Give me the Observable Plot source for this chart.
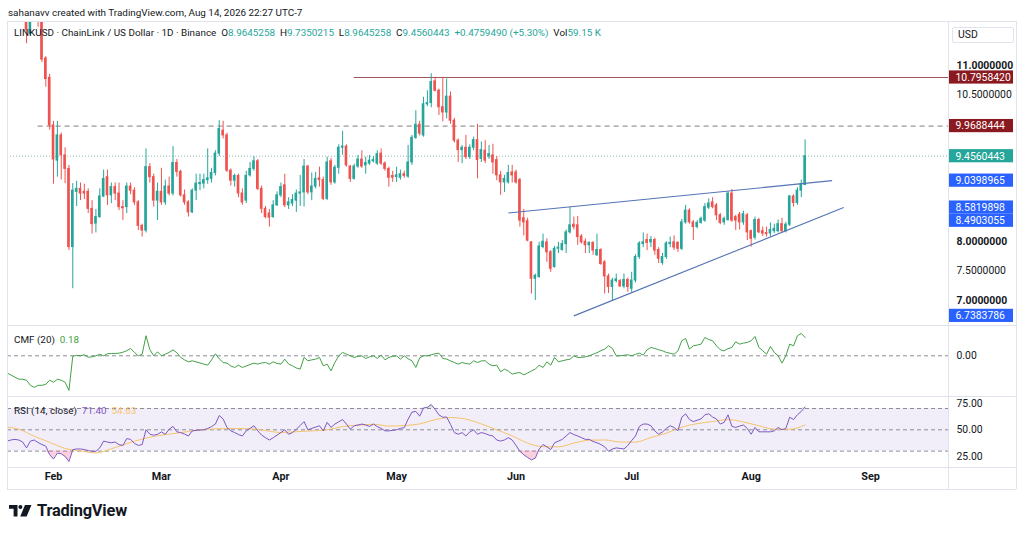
<!DOCTYPE html>
<html><head><meta charset="utf-8">
<script src="https://cdn.jsdelivr.net/npm/d3@7"></script>
<script src="https://cdn.jsdelivr.net/npm/@observablehq/plot@0.6"></script>
<style>
html,body{margin:0;padding:0;background:#fff;}
#root{position:relative;width:1024px;height:534px;overflow:hidden;font-family:Roboto,"Liberation Sans",sans-serif;color:#131722;}
.abs{position:absolute;white-space:nowrap;}
.ln{position:absolute;background:#e0e3eb;}
.up{color:#26a69a}
</style></head><body><div id="root"></div>
<script>
// ---------------- DATA ----------------
const headerText = "sahanavv created with TradingView.com, Aug 14, 2026 22:27 UTC-7";
const symbolText = "LINKUSD · ChainLink / US Dollar · 1D · Binance";
const volumeText = "59.15 K";
const candleStart = "2026-01-25"; // first daily candle, one per day
const opens = [
 11.9,11.54,11.9,11.85,11.8,11.12,10.79,9.98,9.38,9.81,
 9.47,9.24,7.91,8.85,8.9,8.85,8.85,8.56,8.31,8.42,
 8.77,9.1,8.79,8.93,8.82,8.59,8.59,8.94,8.87,8.67,
 8.27,8.19,9.27,9.1,8.7,8.85,8.67,8.94,8.82,9.34,
 9.19,8.79,8.67,8.5,8.87,8.98,8.99,9.05,9.07,9.17,
 9.5,9.89,9.81,9.21,9.04,9.12,8.82,8.7,9.13,9.24,
 9.37,8.9,8.56,8.48,8.42,8.62,8.79,8.96,8.62,8.65,
 8.7,8.82,8.84,9.28,8.84,8.94,9.08,9.05,8.73,9.37,
 9.01,9.26,9.6,9.62,9.28,9.07,9.28,9.4,9.3,9.33,
 9.37,9.33,9.5,9.33,9.24,9.12,9.1,9.09,9.15,9.11,
 9.35,9.77,9.99,9.81,10.34,10.36,10.73,10.57,10.29,10.2,
 10.47,10.06,9.72,9.56,9.6,9.44,9.6,9.73,9.41,9.55,
 9.45,9.47,9.39,9.13,9.01,9.01,9.18,9.18,9.05,8.4,
 8.35,7.99,7.37,7.4,7.91,7.99,7.82,7.57,7.88,7.86,
 7.96,8.16,8.29,8.28,8.09,8.0,7.94,7.98,7.77,7.86,
 7.65,7.41,7.23,7.33,7.33,7.24,7.35,7.2,7.34,7.74,
 7.96,8.03,7.99,8.03,7.86,7.64,7.74,7.96,7.99,7.98,
 7.88,8.33,8.53,8.33,8.25,8.32,8.36,8.58,8.67,8.62,
 8.45,8.33,8.37,8.82,8.42,8.46,8.33,8.45,8.18,8.07,
 8.37,8.18,8.15,8.14,8.18,8.18,8.3,8.18,8.29,8.77,
 8.66,8.87,8.9645258];
const highs = [
 12.0,12.0,12.1,12.0,11.85,11.15,10.85,10.05,10.05,9.85,
 9.6,9.3,8.99,9.03,9.0,8.98,8.9,8.7,8.55,8.9,
 9.22,9.22,9.0,9.0,9.0,8.7,9.0,9.0,8.92,8.7,
 8.3,9.58,9.33,9.15,9.0,9.25,9.05,9.1,9.62,9.4,
 9.22,8.88,8.7,8.9,9.15,9.15,9.15,9.58,9.25,9.55,
 10.06,10.05,9.85,9.24,9.15,9.15,8.9,9.2,9.35,9.45,
 9.4,8.95,8.6,8.55,8.7,8.85,9.0,9.15,8.75,8.8,
 8.88,9.13,9.4,9.3,9.17,9.18,9.27,9.1,9.44,9.42,
 9.3,9.65,9.88,9.65,9.3,9.32,9.47,9.55,9.44,9.47,
 9.45,9.55,9.58,9.36,9.27,9.2,9.27,9.22,9.2,9.64,
 9.81,10.23,10.05,10.46,10.57,10.86,10.8,10.6,10.8,10.77,
 10.55,10.1,9.75,9.64,9.81,9.65,9.78,10.0,9.7,9.72,
 9.64,9.66,9.45,9.2,9.13,9.3,9.3,9.22,9.08,8.55,
 8.4,8.0,7.45,7.99,8.13,8.05,7.85,7.92,7.99,8.02,
 8.2,8.59,8.42,8.43,8.12,8.05,8.0,8.0,8.13,7.88,
 7.68,7.45,7.38,7.45,7.36,7.45,7.38,7.48,7.78,8.0,
 8.15,8.13,8.09,8.06,7.9,7.8,8.0,8.08,8.1,8.0,
 8.38,8.62,8.56,8.36,8.36,8.42,8.65,8.73,8.75,8.65,
 8.48,8.42,8.85,8.89,8.45,8.5,8.52,8.48,8.2,8.42,
 8.4,8.25,8.25,8.32,8.3,8.37,8.4,8.33,8.79,8.8,
 8.92,9.05,9.7350215];
const lows = [
 11.37,11.5,11.75,11.65,11.05,10.63,9.9,8.98,9.1,9.05,
 8.99,7.85,7.2,8.6,8.7,8.72,8.48,8.13,8.15,8.4,
 8.75,8.62,8.65,8.7,8.53,8.36,8.48,8.8,8.62,8.19,
 8.08,8.15,9.0,8.59,8.36,8.62,8.62,8.78,8.78,9.1,
 8.76,8.62,8.42,8.48,8.7,8.87,8.9,8.98,9.0,9.12,
 9.45,9.75,9.18,8.95,8.93,8.75,8.62,8.65,9.1,9.2,
 8.87,8.48,8.39,8.25,8.4,8.6,8.75,8.58,8.55,8.6,
 8.5,8.6,8.59,8.8,8.7,8.9,8.93,8.7,8.7,8.96,
 8.98,9.15,9.47,9.27,9.01,9.05,9.25,9.25,9.15,9.3,
 9.34,9.3,9.3,9.2,8.93,9.01,9.01,9.05,9.08,9.08,
 9.3,9.74,9.8,9.78,10.3,10.28,10.55,10.15,10.04,10.09,
 10.0,9.68,9.35,9.33,9.4,9.4,9.55,9.07,9.35,9.33,
 9.4,9.15,9.04,8.79,8.84,8.98,9.0,8.98,8.25,8.1,
 8.0,7.11,7.0,7.38,7.88,7.65,7.48,7.55,7.8,7.84,
 7.8,8.13,8.2,7.94,7.96,7.8,7.8,7.77,7.75,7.6,
 7.11,7.12,7.0,7.3,7.22,7.2,7.14,7.14,7.3,7.7,
 7.9,7.85,7.9,7.77,7.63,7.6,7.7,7.9,7.85,7.82,
 7.85,8.3,8.3,8.02,8.22,8.3,8.33,8.55,8.56,8.36,
 8.29,8.28,8.35,8.33,8.19,8.2,8.28,8.02,7.91,8.03,
 8.14,8.09,8.08,8.08,8.14,8.15,8.15,8.15,8.26,8.59,
 8.62,8.75,8.9645258];
const closes = [
 11.6,11.9,11.85,11.75,11.1,10.77,9.98,9.4,9.81,9.47,
 9.24,7.91,8.87,8.9,8.82,8.82,8.56,8.3,8.42,8.77,
 9.07,8.79,8.93,8.82,8.59,8.57,8.94,8.87,8.67,8.27,
 8.19,9.27,9.1,8.7,8.85,8.67,8.94,8.82,9.34,9.19,
 8.79,8.67,8.5,8.87,8.99,9.0,9.05,9.08,9.17,9.5,
 9.92,9.81,9.21,9.04,9.12,8.82,8.67,9.12,9.24,9.37,
 8.9,8.56,8.42,8.41,8.62,8.79,8.93,8.62,8.67,8.71,
 8.82,8.84,9.28,8.84,8.94,9.07,9.05,8.73,9.35,9.01,
 9.26,9.6,9.62,9.3,9.07,9.28,9.4,9.28,9.34,9.38,
 9.39,9.49,9.33,9.24,9.09,9.09,9.13,9.15,9.12,9.35,
 9.77,9.99,9.84,10.34,10.36,10.72,10.57,10.29,10.2,10.47,
 10.06,9.72,9.56,9.6,9.44,9.6,9.73,9.39,9.56,9.38,
 9.49,9.35,9.13,9.01,9.07,9.17,9.13,9.01,8.36,8.33,
 8.02,7.37,7.42,7.92,8.0,7.82,7.54,7.88,7.9,7.96,
 8.16,8.28,8.25,8.08,7.99,7.94,7.98,7.85,7.86,7.62,
 7.41,7.23,7.34,7.36,7.24,7.35,7.23,7.34,7.74,7.97,
 7.99,7.98,8.03,7.85,7.71,7.74,7.97,7.98,7.9,7.88,
 8.33,8.53,8.33,8.25,8.32,8.39,8.59,8.65,8.59,8.45,
 8.32,8.39,8.82,8.36,8.36,8.33,8.47,8.16,8.05,8.37,
 8.16,8.14,8.13,8.2,8.22,8.3,8.18,8.29,8.77,8.66,
 8.87,8.9800953,9.4560443];

const indicatorStart = "2026-01-20"; // CMF and RSI, one value per day
const cmf = [
 -0.17,-0.19,-0.21,-0.23,-0.23,-0.24,-0.29,-0.31,-0.29,-0.29,
 -0.28,-0.24,-0.26,-0.23,-0.24,-0.26,-0.34,-0.005,0.005,0.0,
 0.01,-0.015,-0.01,0.0,0.015,0.0,0.02,0.023,0.023,0.026,
 0.035,0.05,0.072,0.033,0.0,0.016,0.197,0.06,0.0,0.039,
 0.0,0.016,0.033,0.059,0.03,-0.016,-0.04,-0.059,-0.049,-0.06,
 -0.07,-0.082,-0.092,-0.04,0.02,-0.03,-0.066,-0.072,-0.1,-0.115,
 -0.092,-0.115,-0.1,-0.085,-0.072,-0.082,-0.07,-0.066,-0.082,-0.059,
 -0.075,-0.082,-0.033,-0.082,-0.098,-0.12,-0.131,-0.016,-0.049,-0.04,
 -0.033,-0.016,-0.098,-0.082,-0.148,-0.066,0.0,0.033,0.016,0.0,
 -0.016,-0.005,0.0,-0.026,-0.01,0.0,-0.026,0.007,-0.039,-0.016,
 -0.005,0.0,-0.033,0.0,-0.03,-0.05,-0.115,-0.02,0.0,0.0,
 0.01,0.02,0.026,-0.026,-0.033,-0.05,-0.066,-0.082,-0.066,-0.075,
 -0.082,-0.049,-0.066,-0.05,-0.049,-0.082,-0.098,-0.092,-0.157,-0.131,
 -0.15,-0.18,-0.17,-0.164,-0.187,-0.17,-0.148,-0.131,-0.092,-0.115,
 -0.059,-0.092,-0.016,-0.059,-0.049,-0.04,-0.033,0.0,-0.016,-0.016,
 -0.01,0.0,0.016,0.03,0.05,0.066,0.098,0.072,0.0,0.0,
 0.005,0.01,0.0,0.015,0.026,0.007,0.059,0.082,0.072,0.06,
 0.049,0.033,0.025,0.016,0.049,0.148,0.17,0.066,0.098,0.105,
 0.115,0.18,0.16,0.148,0.098,0.059,0.049,0.07,0.082,0.138,
 0.115,0.125,0.131,0.148,0.19,0.082,0.05,0.016,0.092,0.033,
 0.0,-0.072,0.0,0.115,0.098,0.197,0.22,0.18];
const rsi = [
 39.4,40.5,41,40.4,38.5,33,39.4,40.4,38,36.2,
 34.6,26.6,22.5,28.2,27.5,25,20.2,31.4,32,32,
 31.4,30.5,29.8,29.8,33,39.4,38.5,37.8,38.5,36,
 35.3,41.7,41,37.2,35.3,36.2,50,45.8,44.9,45.8,
 48,45.8,50.6,53.2,48.1,47.4,46,44.2,49,49.5,
 49.8,50,51.3,53,55.4,63.4,60.2,52.2,49,47.4,
 45.5,44.2,49,51.3,53.8,49,45,42.6,40.4,42.6,
 45,47.4,50,45.8,47.4,50.6,54,57.7,50,51.3,
 52.5,53.8,49,57,52.2,55.4,57.5,59.6,55.4,50.6,
 53.8,54.5,55.4,54.5,53.2,55.4,53,51.3,49,49,
 49.5,50,51.3,52,60,66.6,67.3,62.8,70.5,71,
 73.7,69.2,64,61.8,62,55,47.4,45.8,47.4,44.2,
 48,50,45.8,47.4,46.5,45,44.2,40.4,39.4,40.5,
 42.6,40.4,35.3,29.8,26.6,24,21.8,23.4,32,36.2,
 34,31.4,37.8,39.4,41,44.2,47.4,45.5,44.2,42.6,
 41,41,39,37.8,36.2,34,29.8,32,33,32.5,
 32,35.3,40,44.2,53.2,55.4,55.4,53.8,49,45.8,
 48,51.3,53.8,52.2,49,61.8,65,59.6,57.7,59,
 60.2,64.1,65,62,60.2,55.4,57,64.1,53.2,52.2,
 53.5,54.5,51.3,45.8,52.2,48.1,48.1,48.1,48.1,49,
 52.2,50,51.3,61.8,59.6,64.1,67.3,71.4];
const rsiMaStart = "2026-01-19"; // RSI moving average read every 4 days
const rsiMaStepDays = 4;
const rsiMa = [
 53,50.5,44,38.2,32.5,30.2,28.3,32.2,37,41.3,
 44.4,46.4,48.4,50.2,51,51.3,51,49.3,47.5,48.2,
 49,50,53,54.3,55.2,53.5,54,55.5,59.5,61.5,
 60,55.5,50,44.3,37.5,34.1,34,37.5,40.2,40.5,
 38.5,38.5,42.8,46.8,52.5,55.8,57.8,59.6,57.3,53.8,
 50.6,50.5,54.63];

// horizontal levels drawn on the price pane
const resistanceLevel = 10.795842, resistanceFrom = "2026-04-20";
const supportLevel = 9.9688444, supportFrom = "2026-01-28";
// trend lines (wedge)
const trendStartDates = ["2026-05-30","2026-06-16"];
const trendEndDates = ["2026-08-22","2026-08-25"];
const trendStartValues = [8.4903055, 6.7383786];
const trendEndValues = [9.0398965, 8.5819898];

const priceTicksMajor = [7, 8, 9, 10, 11];
const priceTicksMinor = [7.5, 8.5, 9.5, 10.5];
const monthTicks = ["2026-02-01","2026-03-01","2026-04-01","2026-05-01","2026-06-01","2026-07-01","2026-08-01","2026-09-01"];
const monthLabels = ["Feb","Mar","Apr","May","Jun","Jul","Aug","Sep"];
const rsiLevels = [70, 50, 30];
const rsiAxisTicks = [75, 50, 25];

// ---------------- SETUP ----------------
const FONT = 'Roboto, "Liberation Sans", sans-serif';
const UP = "#26a69a", DOWN = "#ef5350", BLUE = "#2962ff", DARKRED = "#8a1a20";
const DAY = 864e5;
const t = s => new Date(s + "T00:00:00Z");
const feb1 = +t("2026-02-01");
const xDomain = [new Date(feb1 - 11.94 * DAY), new Date(feb1 + 232.2 * DAY)];
const W = 1024, ML = 7, MR = 76;
const FRAME_W = W - ML - MR;

const candles = opens.map((o, i) => ({
  date: new Date(+t(candleStart) + i * DAY), o, h: highs[i], l: lows[i], c: closes[i]
}));
const cmfData = cmf.map((v, i) => ({date: new Date(+t(indicatorStart) + i * DAY), v}));
const rsiData = rsi.map((v, i) => ({date: new Date(+t(indicatorStart) + i * DAY), v}));
const maData = rsiMa.map((v, i) => ({date: new Date(+t(rsiMaStart) + i * rsiMaStepDays * DAY), v}));
const last = candles[candles.length - 1], prev = candles[candles.length - 2];
const change = last.c - prev.c, changePct = change / prev.c * 100;

const trends = trendStartDates.map((d, i) => ({
  x1: t(d), x2: t(trendEndDates[i]), y1: trendStartValues[i], y2: trendEndValues[i]
}));

// price labels on the right axis (stacked so they do not overlap)
const MAIN_H = 304;
const yMainDomain = [6.5745, 11.749];
const yMain = d3.scaleLinear().domain(yMainDomain).range([MAIN_H, 0]);
const BOX_H = 13.2;
let priceLabels = [
  {v: resistanceLevel, fill: DARKRED},
  {v: supportLevel, fill: DARKRED},
  {v: last.c, fill: UP},
  ...trends.flatMap(d => [{v: d.y2, fill: BLUE}, {v: d.y1, fill: BLUE}])
].sort((a, b) => b.v - a.v);
let prevPx = -Infinity;
priceLabels = priceLabels.map(d => {
  const px = Math.max(yMain(d.v), prevPx + BOX_H);
  prevPx = px;
  return {...d, pos: yMain.invert(px), text: d.v.toFixed(7)};
});
// axis ticks hidden behind a price label are not drawn
const visibleTick = v => priceLabels.every(d => Math.abs(yMain(d.pos) - yMain(v)) > BOX_H / 2 + 4);

const common = {
  width: W, marginLeft: ML, marginRight: MR,
  x: {type: "utc", domain: xDomain, axis: null},
  style: {fontFamily: FONT, fontSize: "10.4px", overflow: "visible", background: "transparent", color: "#131722"}
};
const colorOf = d => d.c >= d.o ? UP : DOWN;

const mainPlot = Plot.plot({
  ...common, height: MAIN_H, marginTop: 0, marginBottom: 0,
  y: {domain: yMainDomain, axis: null},
  marks: [
    Plot.text(priceTicksMajor.filter(visibleTick), {y: d => d, text: d => d.toFixed(7), frameAnchor: "right", dx: 8, textAnchor: "start", fill: "#131722", fontWeight: "bold"}),
    Plot.text(priceTicksMinor.filter(visibleTick), {y: d => d, text: d => d.toFixed(7), frameAnchor: "right", dx: 8, textAnchor: "start", fill: "#131722"}),
    Plot.ruleY([last.c], {x1: xDomain[0], x2: xDomain[1], stroke: "#8fbab5", strokeDasharray: "1 2", strokeWidth: 1}),
    Plot.ruleY([supportLevel], {x1: t(supportFrom), x2: xDomain[1], stroke: "#85797e", strokeDasharray: "5 4", strokeWidth: 1}),
    Plot.ruleY([resistanceLevel], {x1: t(resistanceFrom), x2: xDomain[1], stroke: "#a0545c", strokeWidth: 1.2}),
    Plot.ruleX(candles, {x: "date", y1: "l", y2: "h", stroke: colorOf, strokeWidth: 1, clip: true}),
    Plot.rect(candles, {
      x1: d => new Date(+d.date - 0.34 * DAY), x2: d => new Date(+d.date + 0.34 * DAY),
      y1: "o", y2: "c", fill: colorOf, insetTop: -0.5, insetBottom: -0.5, clip: true
    }),
    Plot.link(trends, {x1: "x1", y1: "y1", x2: "x2", y2: "y2", stroke: "#5474b4", strokeWidth: 1.1}),
    Plot.rect(priceLabels, {y1: "pos", y2: "pos", fill: "fill", insetLeft: FRAME_W + 1, insetRight: -65, insetTop: -BOX_H / 2, insetBottom: -BOX_H / 2}),
    Plot.text(priceLabels, {y: "pos", text: "text", frameAnchor: "right", dx: 7, textAnchor: "start", fill: "white"})
  ]
});

const cmfPlot = Plot.plot({
  ...common, height: 70, marginTop: 0, marginBottom: 0,
  y: {domain: [-0.400, 0.288], axis: null},
  marks: [
    Plot.ruleY([0], {stroke: "#8a8d96", strokeDasharray: "4 3"}),
    Plot.lineY(cmfData, {x: "date", y: "v", stroke: "#43a047", strokeWidth: 1, clip: true}),
    Plot.text([0], {y: d => d, text: d => d.toFixed(2), frameAnchor: "right", dx: 8, textAnchor: "start", fill: "#131722"})
  ]
});

const rsiPlot = Plot.plot({
  ...common, height: 92, marginTop: 0, marginBottom: 22,
  y: {domain: [14.6, 80.33], axis: null},
  marks: [
    Plot.rect([rsiLevels], {y1: d => d[0], y2: d => d[2], fill: "#7e57c2", fillOpacity: 0.1}),
    Plot.ruleY(rsiLevels, {stroke: "#8a8d96", strokeDasharray: "4 3"}),
    Plot.areaY(rsiData, {x: "date", y1: 30, y2: d => Math.min(d.v, 30), fill: "#f06292", fillOpacity: 0.3, clip: true}),
    Plot.areaY(rsiData, {x: "date", y1: 70, y2: d => Math.max(d.v, 70), fill: "#66bb6a", fillOpacity: 0.25, clip: true}),
    Plot.line(maData, {x: "date", y: "v", stroke: "#f6c36b", strokeWidth: 1, curve: "monotone-x", clip: true}),
    Plot.lineY(rsiData, {x: "date", y: "v", stroke: "#7e57c2", strokeWidth: 1, clip: true}),
    Plot.text(rsiAxisTicks, {y: d => d, text: d => d.toFixed(2), frameAnchor: "right", dx: 8, textAnchor: "start", fill: "#131722"}),
    Plot.text(monthTicks, {x: d => t(d), text: (d, i) => monthLabels[i], frameAnchor: "bottom", dy: 12, fill: "#131722", fontWeight: "bold", fontSize: 10.8})
  ]
});

// ---------------- LAYOUT ----------------
const root = document.getElementById("root");
function place(el, left, top) { el.style.position = "absolute"; el.style.left = left + "px"; el.style.top = top + "px"; root.appendChild(el); return el; }
function div(html, left, top, css) { const e = document.createElement("div"); e.className = "abs"; e.innerHTML = html; e.style.cssText += css || ""; return place(e, left, top); }
function line(l, tp, w, h) { const e = document.createElement("div"); e.className = "ln"; e.style.width = w + "px"; e.style.height = h + "px"; return place(e, l, tp); }

place(mainPlot, 0, 21);
place(cmfPlot, 0, 326);
place(rsiPlot, 0, 397);

// pane borders
line(7, 21, 1009, 1); line(7, 325, 1009, 1); line(7, 396, 1009, 1); line(7, 467, 1009, 1); line(7, 489, 1009, 1);
line(7, 21, 1, 468); line(948, 21, 1, 468); line(1016, 21, 1, 468);

const TXT = "font-size:9.9px;";
div(headerText, 8, 7, TXT);
const f = v => v.toFixed(7);
div(`${symbolText}&nbsp;&nbsp;O<span class="up">${f(last.o)}</span>&nbsp;&nbsp;H<span class="up">${f(last.h)}</span>&nbsp;&nbsp;L<span class="up">${f(last.l)}</span>&nbsp;&nbsp;C<span class="up">${f(last.c)}</span>&nbsp;&nbsp;<span class="up">${change >= 0 ? "+" : ""}${f(change)} (${change >= 0 ? "+" : ""}${changePct.toFixed(2)}%)</span>&nbsp;&nbsp;Vol<span class="up">${volumeText}</span>`, 14, 27, TXT);
div("USD", 952, 27, "font-size:10.4px;border:1px solid #e0e3eb;border-radius:2px;width:55px;height:14px;line-height:14px;padding:0 0 0 5px;background:#fff;");
div(`CMF (20)&nbsp;&nbsp;<span style="color:#43a047">${cmf[cmf.length - 1].toFixed(2)}</span>`, 14, 334, TXT);
div(`RSI (14, close)&nbsp;&nbsp;<span style="color:#7e57c2">${rsi[rsi.length - 1].toFixed(2)}</span>&nbsp;&nbsp;<span style="color:#f6c36b">${rsiMa[rsiMa.length - 1].toFixed(2)}</span>`, 14, 405, TXT);

// footer logo
div(`<svg width="24" height="13" viewBox="0 0 24 13"><path d="M0 0H8.5V11.5H4.6V3.7H0Z" fill="#131722"/><circle cx="11.4" cy="2" r="2" fill="#131722"/><path d="M16 0H22.5L17.6 11.5H11.2Z" fill="#131722"/></svg>`, 9, 505, "line-height:0;");
div("TradingView", 37, 501, "font-size:16.4px;font-weight:bold;letter-spacing:-0.2px;");
</script>
</body></html>
